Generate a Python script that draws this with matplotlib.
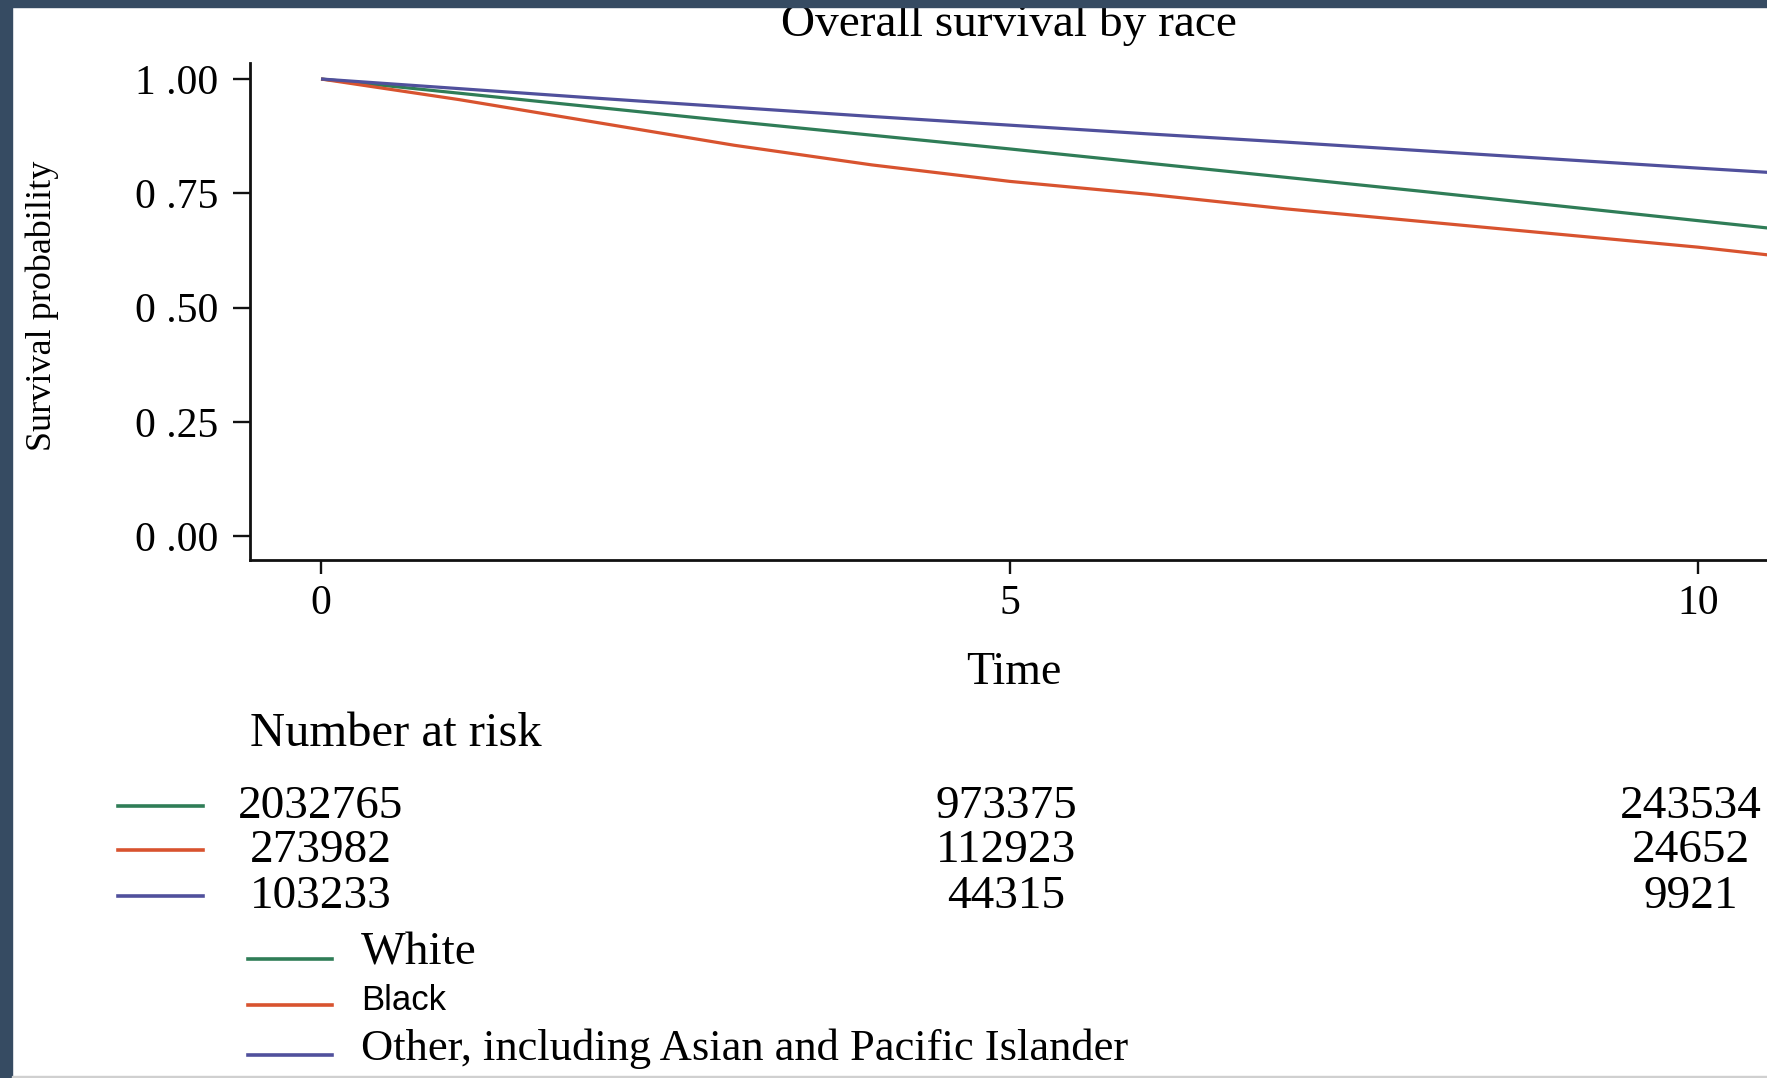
import matplotlib
matplotlib.use("Agg")
import matplotlib.pyplot as plt
import matplotlib.transforms as mtrans
from matplotlib.lines import Line2D
from matplotlib.patches import Rectangle

# survival curves
time = [0, 1, 2, 3, 4, 5, 6, 7, 8, 9, 10, 10.6]
white = [1.0, 0.969, 0.938, 0.907, 0.877, 0.847, 0.816, 0.785, 0.754, 0.722, 0.690, 0.671]
black = [1.0, 0.955, 0.905, 0.855, 0.812, 0.776, 0.748, 0.716, 0.688, 0.660, 0.632, 0.612]
other = [1.0, 0.979, 0.958, 0.938, 0.918, 0.899, 0.880, 0.862, 0.843, 0.824, 0.805, 0.794]

groups = ["White", "Black", "Other, including Asian and Pacific Islander"]
colors = ["#2f7d57", "#d8532f", "#50509c"]

risk_times = [0, 5, 10]
risk_white = ["2032765", "973375", "243534"]
risk_black = ["273982", "112923", "24652"]
risk_other = ["103233", "44315", "9921"]

xticks = [0, 5, 10]
yticks = [0.0, 0.25, 0.50, 0.75, 1.00]
ytick_labels = ["0 .00", "0 .25", "0 .50", "0 .75", "1 .00"]

W, H = 1767, 1078
SERIF = ["Liberation Serif", "DejaVu Serif"]


def fy(px):
    return 1 - px / H


def fx(px):
    return px / W


fig = plt.figure(figsize=(W / 100, H / 100), dpi=100)
fig.patch.set_facecolor("white")

ax = fig.add_axes([fx(250), fy(560), 1 - fx(250), fy(63) - fy(560)])
for series, col in zip([white, black, other], colors):
    ax.plot(time, series, color=col, lw=2.3, solid_capstyle="butt")

ax.set_xlim(-0.516, 10.5)
ax.set_ylim(-0.0525, 1.035)
ax.spines["top"].set_visible(False)
ax.spines["right"].set_visible(False)
for s in ("left", "bottom"):
    ax.spines[s].set_linewidth(2.0)
    ax.spines[s].set_color("#111111")
ax.set_xticks(xticks)
ax.set_xticklabels([str(t) for t in xticks], family=SERIF, fontsize=30)
ax.set_yticks(yticks)
ax.set_yticklabels(ytick_labels, family=SERIF, fontsize=30)
ax.tick_params(axis="y", length=12, width=1.7, pad=11, color="#111111")
ax.tick_params(axis="x", length=10, width=1.7, pad=8, color="#111111")

fig.text(fx(1009), fy(24), "Overall survival by race", family=SERIF,
         fontsize=34, ha="center", va="center")
fig.text(fx(42), fy(306), "Survival probability", family=SERIF,
         fontsize=26, rotation=90, ha="center", va="center")
fig.text(fx(1014), fy(673), "Time", family=SERIF, fontsize=33,
         ha="center", va="center")
fig.text(fx(250), fy(734), "Number at risk", family=SERIF, fontsize=35,
         ha="left", va="center")

# number at risk table, columns placed on the time axis
tr = mtrans.blended_transform_factory(ax.transData, fig.transFigure)
row_y = [807, 851, 897]
for vals, col, ypx in zip([risk_white, risk_black, risk_other], colors, row_y):
    fig.add_artist(Line2D([fx(118), fx(203)], [fy(ypx - 1), fy(ypx - 1)],
                          color=col, lw=2.6))
    for t, v in zip(risk_times, vals):
        ax.text(t - 0.05 * (t / 10), fy(ypx), v, transform=tr, family=SERIF,
                fontsize=34, ha="center", va="center", clip_on=False)

# legend: (line y, text y, font) per group
line_y = [959, 1005, 1055]
text_y = [953, 1000, 1049]
for name, col, ly, ty in zip(groups, colors, line_y, text_y):
    fig.add_artist(Line2D([fx(248), fx(332)], [fy(ly), fy(ly)],
                          color=col, lw=2.6))
    if name == "Black":
        fig.text(fx(361), fy(ty), name, family=["Liberation Sans", "DejaVu Sans"],
                 fontsize=25, ha="left", va="center")
    elif name == "White":
        fig.text(fx(361), fy(ty), name, family=SERIF, fontsize=34,
                 ha="left", va="center")
    else:
        fig.text(fx(361), fy(ty), name, family=SERIF, fontsize=32,
                 ha="left", va="center")

# slide frame around the chart
frame = "#364b62"
fig.add_artist(Rectangle((0, fy(7)), 1, 7 / H, transform=fig.transFigure,
                         color=frame, zorder=10))
fig.add_artist(Rectangle((0, 0), fx(12), 1, transform=fig.transFigure,
                         color=frame, zorder=10))
fig.add_artist(Rectangle((fx(12), 0), fx(1755), 2 / H, transform=fig.transFigure,
                         color="#d0d0d0", zorder=10))

fig.savefig("out.png", dpi=100)
